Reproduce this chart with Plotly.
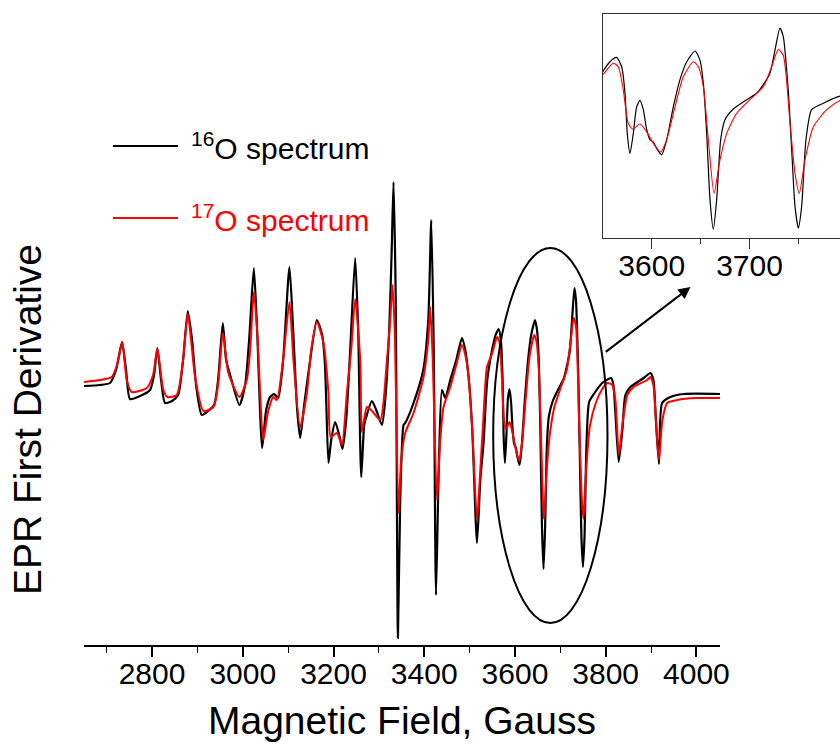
import plotly.graph_objects as go

# ---- data (field in Gauss, first-derivative signal in arbitrary units) ----
black_field = [2650.0, 2685.3, 2707.4, 2720.6, 2733.8, 2742.7, 2751.5, 2773.5, 2795.6, 2804.4, 2811.7, 2819.9,
               2828.7, 2844.1, 2857.4, 2868.4, 2878.8, 2888.2, 2897.1, 2909.6, 2923.5, 2936.8, 2945.6, 2956.0,
               2963.3, 2972.1, 2992.6, 3005.2, 3014.0, 3024.4, 3031.6, 3042.7, 3051.5, 3060.3, 3069.1, 3078.0,
               3089.0, 3102.9, 3111.1, 3119.9, 3126.5, 3135.3, 3148.6, 3163.3, 3175.0, 3181.0, 3183.9, 3188.9,
               3194.9, 3203.7, 3212.5, 3219.8, 3228.0, 3236.8, 3247.8, 3254.4, 3261.1, 3267.7, 3272.1, 3284.7,
               3294.2, 3306.7, 3314.0, 3322.8, 3328.3, 3332.3, 3337.2, 3342.0, 3347.1, 3354.4, 3358.1, 3376.4,
               3397.8, 3408.9, 3415.5, 3421.0, 3425.9, 3432.0, 3439.1, 3446.4, 3457.4, 3470.6, 3483.2, 3490.5,
               3497.8, 3505.9, 3516.3, 3523.6, 3530.8, 3539.0,
               3550.0, 3557.4, 3564.0, 3569.3, 3572.7, 3575.0, 3577.8, 3581.2, 3584.6, 3588.0, 3591.4, 3594.9,
               3598.3, 3601.6, 3605.0, 3610.2, 3615.3, 3622.1, 3628.9, 3635.8, 3644.3, 3649.4, 3652.8, 3656.2,
               3659.6, 3663.0, 3666.4, 3670.5, 3674.9, 3683.4, 3697.1, 3707.3, 3714.1, 3720.9, 3726.0, 3731.1,
               3734.5, 3739.6, 3743.1, 3746.5, 3749.9, 3753.3, 3757.7, 3763.5, 3775.4, 3792.4,
               3812.0, 3817.0, 3821.0, 3828.7, 3836.8, 3843.4, 3854.5, 3883.8, 3898.6, 3905.2, 3910.7, 3917.4,
               3924.4, 3942.7, 3972.1, 4053.0]
black_signal = [0.4, 0.5, 0.7, 2.0, 4.8, 2.0, -0.9, -0.6, 0.0, 1.5, 4.2, 1.0,
                -1.3, -1.1, -0.5, 3.0, 7.9, 5.0, 0.5, -2.5, -2.1, -1.5, 1.0, 6.7,
                3.0, 1.5, -1.5, 0.5, 5.0, 12.2, 6.0, -5.8, -2.0, -0.7, -0.4, -0.8,
                3.0, 12.3, 6.0, -2.0, -4.8, -1.5, 3.0, 7.0, 5.5, 2.7, -1.0, -7.3,
                -5.0, -3.2, -4.5, -5.9, -3.0, 4.0, 13.2, 6.0, -8.7, -3.5, -2.7, -1.1,
                -2.0, -3.5, -1.0, 6.0, 14.0, 20.8, 9.0, -24.8, -11.0, -3.5, -3.3, -1.3,
                2.0, 7.0, 17.0, 4.0, -20.5, -8.0, 0.0, -0.8, 1.0, 3.0, 5.2, 4.0,
                1.3, -4.0, -15.3, -9.0, -5.3, 1.0,
                4.1, 5.5, 6.1, 4.8, 1.1, -4.5, -7.3, -4.5, -0.8, 0.1, -1.2, -4.0,
                -5.4, -5.7, -6.6, -7.5, -5.4, -0.8, 3.0, 5.5, 7.0, 5.7, 2.5, -4.5,
                -13.8, -17.9, -13.8, -5.4, -2.6, -1.1, 0.2, 1.1, 2.3, 3.9, 7.1, 10.2,
                9.0, 1.5, -6.8, -14.7, -17.7, -14.7, -5.4, -1.2, -0.3, 0.7,
                1.2, 0.5, -2.0, -7.2, -4.0, -0.5, 0.3, 1.2, 1.7, 1.0, -3.0, -7.4,
                -1.3, -0.7, -0.4, -0.4]

red_field = [2650.0, 2685.3, 2711.1, 2722.8, 2734.5, 2744.2, 2755.2, 2788.3, 2802.2, 2811.7, 2824.9, 2833.8,
             2854.5, 2868.4, 2878.8, 2894.9, 2913.2, 2935.2, 2945.6, 2956.0, 2968.3, 2992.6, 3008.9, 3016.2,
             3024.4, 3031.6, 3038.3, 3044.9, 3056.6, 3067.6, 3075.1, 3089.0, 3102.9, 3111.7, 3126.5, 3141.3,
             3150.8, 3163.3, 3177.9, 3188.9, 3193.8, 3207.5, 3218.5, 3229.5, 3239.0, 3247.8, 3258.9, 3262.6,
             3273.6, 3283.1, 3303.0, 3317.8, 3325.0, 3330.1, 3335.0, 3343.3, 3349.3, 3358.1, 3376.4, 3398.5,
             3408.9, 3413.3, 3418.8, 3428.1, 3435.3, 3442.6, 3457.4, 3470.6, 3483.2, 3490.5, 3497.8, 3505.9,
             3516.3, 3523.6, 3530.2, 3538.3,
             3550.0, 3560.7, 3565.8, 3570.9, 3576.0, 3580.5, 3588.0, 3594.9, 3601.6, 3609.2, 3615.3, 3623.8,
             3632.3, 3642.6, 3647.7, 3652.8, 3657.9, 3663.7, 3669.8, 3676.7, 3686.9, 3700.5, 3714.1, 3722.6,
             3729.4, 3734.5, 3741.3, 3746.5, 3750.9, 3756.7, 3765.2, 3778.9, 3792.4,
             3803.7, 3814.8, 3821.4, 3829.1, 3836.8, 3847.9, 3861.8, 3891.3, 3898.6, 3905.2, 3910.7, 3917.4,
             3925.1, 3935.5, 3957.5, 3999.0, 4053.0]
red_signal = [0.8, 1.0, 1.3, 2.5, 4.8, 1.0, -0.2, 0.2, 1.5, 4.1, 0.0, -0.7,
              -0.5, 3.0, 7.6, 1.3, -2.1, -1.7, 0.5, 5.7, 1.7, -0.7, 1.0, 4.0,
              9.8, 6.0, -0.3, -5.0, -2.0, -0.7, -1.0, 3.0, 8.8, 3.0, -3.7, -0.3,
              4.0, 6.8, 4.7, -0.3, -4.7, -4.3, -5.5, -0.3, 4.0, 9.1, 3.0, -4.2,
              -1.7, -2.0, -3.0, 3.0, 7.0, 10.5, 6.0, -12.3, -7.0, -4.3, -2.3, 1.3,
              5.0, 8.3, 3.0, -11.0, -5.0, -1.7, 0.3, 2.5, 4.5, 3.5, 1.3, -4.0,
              -13.0, -8.0, -3.0, 2.3,
              3.7, 5.3, 4.8, 1.6, -3.1, -3.9, -3.2, -4.3, -5.9, -7.1, -5.4, -0.8,
              3.4, 5.5, 4.8, 2.0, -5.4, -12.9, -8.2, -4.5, -1.7, 0.2, 2.0, 4.8,
              7.2, 6.4, -2.9, -10.1, -12.9, -8.2, -3.6, -1.2, 0.1,
              0.7, 0.5, -1.0, -6.5, -3.5, -0.5, 0.3, 1.0, 1.3, 0.5, -3.0, -7.0,
              -3.0, -1.3, -1.0, -0.8, -0.8]

main_ticks = [2800, 3000, 3200, 3400, 3600, 3800, 4000]
inset_ticks = [3600, 3700]
legend_labels = ["<sup>16</sup>O spectrum", "<sup>17</sup>O spectrum"]
legend_colors = ["#000000", "#ff0000"]

FONT = "Liberation Sans, Arial, Helvetica, sans-serif"

fig = go.Figure()
# main spectra
fig.add_trace(go.Scatter(x=black_field, y=black_signal, mode="lines",
                         line=dict(color="#000000", width=2.2, shape="spline", smoothing=0.6),
                         showlegend=False, xaxis="x", yaxis="y"))
fig.add_trace(go.Scatter(x=red_field, y=red_signal, mode="lines",
                         line=dict(color="#ff0000", width=2.0, shape="spline", smoothing=0.6),
                         showlegend=False, xaxis="x", yaxis="y"))
# inset spectra
fig.add_trace(go.Scatter(x=black_field, y=black_signal, mode="lines",
                         line=dict(color="#000000", width=1.2, shape="spline", smoothing=0.6),
                         showlegend=False, xaxis="x2", yaxis="y2"))
fig.add_trace(go.Scatter(x=red_field, y=red_signal, mode="lines",
                         line=dict(color="#ff0000", width=1.1, shape="spline", smoothing=0.6),
                         showlegend=False, xaxis="x2", yaxis="y2"))

W, H = 840, 749
mb = 104
ph = H - mb

fig.update_layout(
    width=W, height=H,
    margin=dict(l=0, r=0, t=0, b=mb, pad=0),
    paper_bgcolor="white", plot_bgcolor="white",
    font=dict(family=FONT, color="black"),
    xaxis=dict(domain=[84 / W, 720 / W], range=[2650, 4052], tickvals=main_ticks,
               showline=True, linecolor="black", linewidth=1.6, ticks="outside", ticklen=10,
               tickwidth=1.6, tickcolor="black", showgrid=False, zeroline=False,
               tickfont=dict(size=30, family=FONT), automargin=False, ticklabelstandoff=-9,
               minor=dict(dtick=100, tick0=2700, ticks="outside", ticklen=6, tickwidth=1.4,
                          tickcolor="black", showgrid=False),
               anchor="y"),
    yaxis=dict(domain=[0, 1], range=[-25.5, 39], visible=False, anchor="x", automargin=False),
    xaxis2=dict(domain=[603 / W, 1.0], range=[3550.2, 3792.5], tickvals=inset_ticks,
                showline=True, mirror=True, linecolor="#333333", linewidth=1.2,
                ticks="outside", ticklen=10, tickwidth=1.2, tickcolor="#333333",
                showgrid=False, zeroline=False, tickfont=dict(size=30, family=FONT), automargin=False,
                ticklabelstandoff=-9,
                minor=dict(dtick=50, tick0=3550, ticks="outside", ticklen=5, tickwidth=1.2,
                           tickcolor="#333333", showgrid=False),
                anchor="y2"),
    yaxis2=dict(domain=[(ph - 238) / ph, (ph - 14) / ph], range=[-19.12, 12.17],
                showline=True, linecolor="#333333", linewidth=1.2, showticklabels=False,
                ticks="", showgrid=False, zeroline=False, anchor="x2", automargin=False),
)

# ellipse highlighting the zoomed region
fig.add_shape(type="circle", xref="x", yref="y", x0=3552, x1=3804, y0=-23.3, y1=14.2,
              line=dict(color="black", width=2))

# arrow pointing to inset
fig.add_annotation(x=3987, y=10.3, ax=3797, ay=3.7, xref="x", yref="y", axref="x", ayref="y",
                   showarrow=True, arrowhead=2, arrowsize=1.2, arrowwidth=2, arrowcolor="black", text="")

# legend drawn as lines + text
for i, (lab, col) in enumerate(zip(legend_labels, legend_colors)):
    yy = (ph - (146 + 72 * i)) / ph
    fig.add_shape(type="line", xref="paper", yref="paper", x0=113 / W, x1=178 / W, y0=yy, y1=yy,
                  line=dict(color=col, width=2))
    fig.add_annotation(x=189 / W, y=yy, xref="paper", yref="paper", text=lab, showarrow=False,
                       xanchor="left", yanchor="middle", font=dict(size=30, color=col, family=FONT))

# axis titles
fig.add_annotation(x=402 / W, y=(ph - 720) / ph, xref="paper", yref="paper", text="Magnetic Field, Gauss",
                   showarrow=False, xanchor="center", yanchor="middle", font=dict(size=39, family=FONT))
fig.add_annotation(x=27 / W, y=(ph - 420) / ph, xref="paper", yref="paper", text="EPR First Derivative",
                   showarrow=False, xanchor="center", yanchor="middle", textangle=-90,
                   font=dict(size=39, family=FONT))

fig.write_html("out.html", config={"displayModeBar": False},
               post_script="document.body.style.margin='0';document.body.style.overflow='hidden';")
